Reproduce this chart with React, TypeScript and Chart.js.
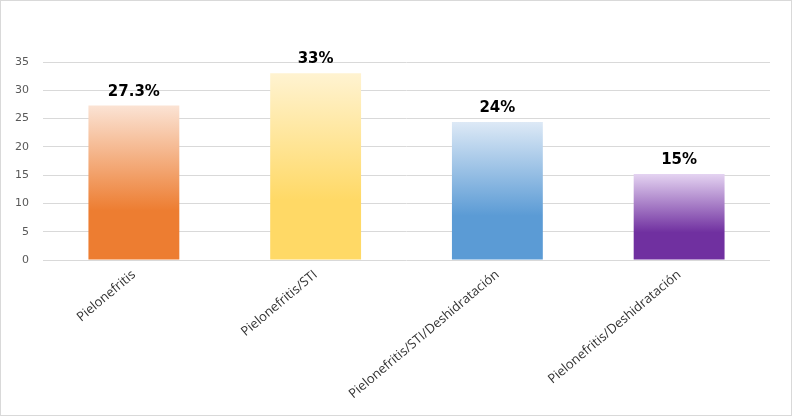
import React, { useEffect, useRef } from "react";
import { Chart, registerables } from "chart.js";

Chart.register(...registerables);

const categories = [
  "Pielonefritis",
  "Pielonefritis/STI",
  "Pielonefritis/STI/Deshidratación",
  "Pielonefritis/Deshidratación",
];
const values = [27.3, 33, 24.4, 15.2];
const valueLabels = ["27.3%", "33%", "24%", "15%"];
const topColors = ["#fbe3d4", "#fff3d1", "#dde9f6", "#e4d3f1"];
const bottomColors = ["#ED7D31", "#FFD966", "#5B9BD5", "#7030A0"];
const yTicks = [0, 5, 10, 15, 20, 25, 30, 35];

const gradientFill = (ctx: any) => {
  const chart = ctx.chart;
  const i = ctx.dataIndex ?? 0;
  const y = chart.scales && chart.scales.y;
  if (!y || !chart.chartArea) return bottomColors[i];
  const top = y.getPixelForValue(values[i]);
  const base = y.getPixelForValue(0);
  if (!isFinite(top) || !isFinite(base) || base - top < 1) return bottomColors[i];
  const g = chart.ctx.createLinearGradient(0, top, 0, base);
  g.addColorStop(0, topColors[i]);
  g.addColorStop(0.68, bottomColors[i]);
  g.addColorStop(1, bottomColors[i]);
  return g;
};

const labelPlugin = {
  id: "valueLabels",
  afterDatasetsDraw(chart: any) {
    const meta = chart.getDatasetMeta(0);
    const c = chart.ctx;
    c.save();
    c.font = "bold 15px 'DejaVu Sans'";
    c.fillStyle = "#000000";
    c.textAlign = "center";
    c.textBaseline = "alphabetic";
    meta.data.forEach((el: any, i: number) => {
      c.fillText(valueLabels[i], el.x, el.y - 10);
    });
    c.restore();
  },
};

const borderPlugin = {
  id: "outerBorder",
  afterDraw(chart: any) {
    const c = chart.ctx;
    c.save();
    c.strokeStyle = "#d9d9d9";
    c.lineWidth = 1;
    c.strokeRect(0.5, 0.5, chart.width - 1, chart.height - 1);
    c.restore();
  },
};

export default function App() {
  const ref = useRef<HTMLCanvasElement | null>(null);
  useEffect(() => {
    if (!ref.current) return;
    const chart = new Chart(ref.current, {
      type: "bar",
      data: {
        labels: categories,
        datasets: [
          {
            data: values,
            backgroundColor: gradientFill,
            borderWidth: 0,
            barPercentage: 0.5,
            categoryPercentage: 1,
          },
        ],
      },
      options: {
        animation: false,
        responsive: false,
        maintainAspectRatio: false,
        layout: { padding: { top: 62, right: 22, left: 0, bottom: 0 } },
        plugins: {
          legend: { display: false },
          tooltip: { enabled: false },
        },
        scales: {
          x: {
            grid: { display: false, drawTicks: false },
            border: { display: false },
            ticks: {
              autoSkip: false,
              minRotation: 40,
              maxRotation: 40,
              padding: 7,
              color: "#333333",
              font: { family: "'Open Sans'", size: 13 },
            },
            afterFit: (s: any) => {
              s.height = 156;
            },
          },
          y: {
            min: 0,
            max: 35,
            grid: { color: "#d9d9d9", drawTicks: false, lineWidth: 1 },
            border: { display: false },
            afterBuildTicks: (s: any) => {
              s.ticks = yTicks.map((v) => ({ value: v }));
            },
            ticks: {
              padding: 14,
              color: "#595959",
              font: { family: "'DejaVu Sans'", size: 11 },
            },
            afterFit: (s: any) => {
              s.width = 43;
            },
          },
        },
      },
      plugins: [labelPlugin, borderPlugin],
    });
    return () => chart.destroy();
  }, []);
  return (
    <div style={{ position: "absolute", left: 0, top: 0, width: 792, height: 416, background: "#ffffff" }}>
      <canvas ref={ref} width={792} height={416} style={{ display: "block" }} />
    </div>
  );
}
